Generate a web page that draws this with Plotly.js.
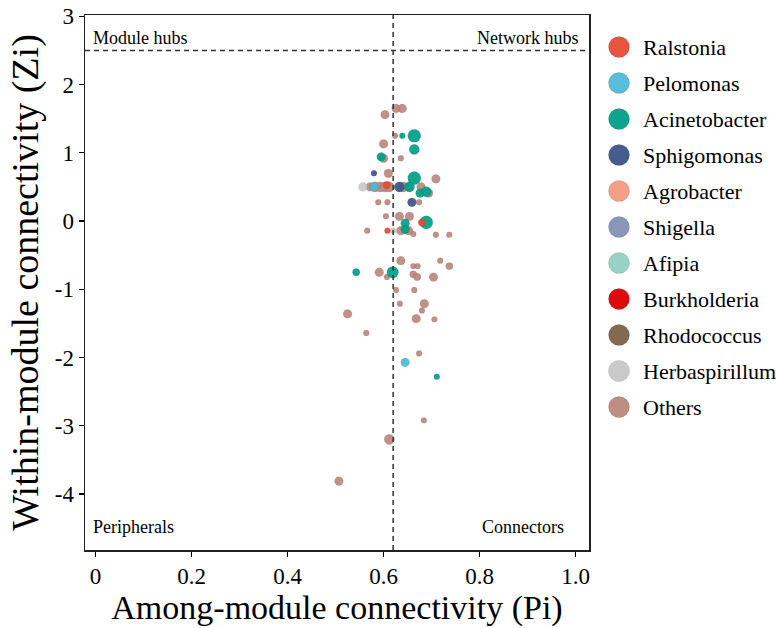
<!DOCTYPE html>
<html><head><meta charset="utf-8">
<script src="https://cdn.plot.ly/plotly-3.0.1.min.js"></script>
<style>html,body{margin:0;padding:0;background:#fff}#chart{width:776px;height:628px}</style>
</head><body><div id="chart"></div><script>
// Legend categories and colours
const genera = ['Ralstonia','Pelomonas','Acinetobacter','Sphigomonas','Agrobacter','Shigella','Afipia','Burkholderia','Rhodococcus','Herbaspirillum','Others'];
const genusColors = ['#E64B35','#4DBBD5','#00A087','#3C5488','#F39B7F','#8491B4','#91D1C2','#DC0000','#7E6148','#C8C8C8','#BC877D'];

// Node data: among-module connectivity (Pi), within-module connectivity (Zi), genus, degree
const pi = [0.626,0.639,0.603,0.624,0.639,0.664,0.600,0.664,0.595,0.600,0.636,0.580,0.610,0.664,0.709,
  0.557,0.572,0.580,0.582,0.593,0.603,0.612,0.607,0.633,0.641,0.654,0.652,0.678,0.676,0.689,0.694,
  0.589,0.608,0.659,0.674,0.605,0.633,0.654,0.645,0.680,0.689,0.566,0.608,0.620,0.636,0.645,0.652,
  0.662,0.709,0.737,0.636,0.662,0.671,0.718,0.737,0.543,0.591,0.619,0.607,0.662,0.670,0.704,0.626,
  0.664,0.634,0.685,0.680,0.525,0.668,0.706,0.564,0.674,0.645,0.711,0.684,0.612,0.507];
const zi = [1.65,1.65,1.56,1.25,1.25,1.25,1.13,1.05,0.94,0.92,0.92,0.70,0.70,0.63,0.62,
  0.50,0.50,0.50,0.50,0.50,0.50,0.50,0.53,0.50,0.50,0.50,0.50,0.50,0.41,0.43,0.41,
  0.275,0.275,0.275,0.275,0.07,0.07,0.07,-0.03,-0.02,-0.02,-0.14,-0.14,-0.14,-0.14,-0.12,-0.14,
  -0.19,-0.20,-0.20,-0.58,-0.66,-0.66,-0.58,-0.66,-0.75,-0.75,-0.75,-0.82,-0.78,-0.82,-0.82,-1.01,
  -1.01,-1.21,-1.21,-1.31,-1.36,-1.43,-1.44,-1.64,-1.94,-2.07,-2.28,-2.92,-3.20,-3.81];
const genus = ['Others','Others','Others','Others','Acinetobacter','Acinetobacter','Others','Acinetobacter','Acinetobacter','Others','Others','Sphigomonas','Others','Acinetobacter','Others',
  'Herbaspirillum','Others','Pelomonas','Others','Others','Others','Others','Ralstonia','Sphigomonas','Others','Acinetobacter','Others','Others','Acinetobacter','Acinetobacter','Others',
  'Others','Others','Sphigomonas','Others','Others','Others','Others','Acinetobacter','Ralstonia','Acinetobacter','Others','Ralstonia','Herbaspirillum','Others','Acinetobacter','Others',
  'Others','Others','Others','Others','Others','Others','Others','Others','Acinetobacter','Others','Acinetobacter','Others','Others','Others','Others','Others',
  'Others','Others','Others','Others','Others','Others','Others','Others','Others','Pelomonas','Acinetobacter','Others','Others','Others'];
const degree = [4,4,4,2,2,7,4,5,4,4,2,2,4,7,4,
  4,4,4,5,5,5,5,3,5,5,5,4,4,4,5,4,
  2,2,4,2,2,4,4,4,3,7,2,2,2,4,4,4,
  2,2,2,4,2,2,2,3,3,4,6,2,3,3,4,2,
  2,2,4,2,4,4,2,2,2,4,2,2,5,4];

// Axis ticks and thresholds
const xTickVals = [0,0.2,0.4,0.6,0.8,1.0];
const xTickText = ['0','0.2','0.4','0.6','0.8','1.0'];
const yTickVals = [-4,-3,-2,-1,0,1,2,3];
const yTickText = ['-4','-3','-2','-1','0','1','2','3'];
const piThreshold = 0.62;
const ziThreshold = 2.5;
const roleLabels = ['Module hubs','Network hubs','Peripherals','Connectors'];

const serif = 'Liberation Serif, Times New Roman, serif';
const W = 776, H = 628;
const M = { l: 85, r: 0, t: 15, b: 78 };
const plotRightPx = 589;                       // right edge of the main panel
const mainFrac = (plotRightPx - M.l) / (W - M.l - M.r);
const panelH = H - M.t - M.b;
const keyW = W - plotRightPx;
const rowPx = 36, firstRowPx = 32;             // key row spacing / offset of first row (px)
const keyTop = -firstRowPx / rowPx;
const keyBottom = keyTop + panelH / rowPx;

// main scatter traces ("Others" drawn first so coloured nodes sit on top)
const drawOrder = genera.slice().reverse();
const traces = drawOrder.map(g => {
  const gi = genera.indexOf(g);
  const xs = [], ys = [], ss = [];
  pi.forEach((v, i) => { if (genus[i] === g) { xs.push(v); ys.push(zi[i]); ss.push(3 + degree[i] * 1.45); } });
  return {
    type: 'scatter', mode: 'markers', name: g, showlegend: false,
    x: xs, y: ys, xaxis: 'x', yaxis: 'y',
    marker: { color: genusColors[gi], size: ss, opacity: 0.92,
              line: { width: 0.6, color: 'rgba(0,0,0,0.12)' } }
  };
});

// key (legend) drawn on a side axis: one row per genus
const rowIndex = genera.map((g, i) => i);
traces.push({
  type: 'scatter', mode: 'markers', showlegend: false,
  x: genera.map(() => 30), y: rowIndex, xaxis: 'x2', yaxis: 'y2',
  marker: { color: genusColors, size: 21, opacity: 0.95, line: { width: 0.8, color: 'rgba(0,0,0,0.15)' } },
  hoverinfo: 'skip', cliponaxis: false
});
const keyLabels = genera.map((g, i) => ({
  text: g, xref: 'x2', yref: 'y2', x: 52, y: i, xanchor: 'left', yanchor: 'middle',
  showarrow: false, font: { family: serif, size: 22, color: '#000' }
}));

const roleFont = { family: serif, size: 18, color: '#000' };
const layout = {
  width: W, height: H,
  margin: M,
  paper_bgcolor: '#fff', plot_bgcolor: '#fff',
  font: { family: serif, color: '#000' },
  showlegend: false,
  xaxis: {
    domain: [0, mainFrac],
    range: [-0.022, 1.028], tickvals: xTickVals, ticktext: xTickText,
    ticks: 'outside', ticklen: 5, tickwidth: 1.2, tickcolor: '#000',
    showline: true, mirror: true, linecolor: '#222', linewidth: 1.5,
    showgrid: false, zeroline: false,
    tickfont: { family: serif, size: 23, color: '#000' },
    title: { text: 'Among-module connectivity (Pi)', font: { family: serif, size: 34, color: '#000' }, standoff: 4 }
  },
  yaxis: {
    range: [-4.82, 3.02], tickvals: yTickVals, ticktext: yTickText,
    ticks: 'outside', ticklen: 5, tickwidth: 1.2, tickcolor: '#000',
    showline: true, mirror: true, linecolor: '#222', linewidth: 1.5,
    showgrid: false, zeroline: false,
    tickfont: { family: serif, size: 23, color: '#000' },
    title: { text: 'Within-module connectivity (Zi)', font: { family: serif, size: 38, color: '#000' }, standoff: 4 }
  },
  xaxis2: { domain: [mainFrac, 1], range: [0, keyW], anchor: 'y2', visible: false, fixedrange: true },
  yaxis2: { domain: [0, 1], range: [keyBottom, keyTop], anchor: 'x2', visible: false, fixedrange: true },
  shapes: [
    { type: 'line', xref: 'x', yref: 'y domain', x0: piThreshold, x1: piThreshold, y0: 0, y1: 1,
      line: { color: '#333', width: 1.5, dash: '5px,4px' } },
    { type: 'line', xref: 'x domain', yref: 'y', x0: 0, x1: 1, y0: ziThreshold, y1: ziThreshold,
      line: { color: '#333', width: 1.5, dash: '5px,4px' } }
  ],
  annotations: [
    { text: roleLabels[0], xref: 'x', yref: 'y', x: -0.01, y: 2.69, xanchor: 'left', yanchor: 'middle', showarrow: false, font: roleFont },
    { text: roleLabels[1], xref: 'x', yref: 'y', x: 1.012, y: 2.69, xanchor: 'right', yanchor: 'middle', showarrow: false, font: roleFont },
    { text: roleLabels[2], xref: 'x', yref: 'y', x: -0.01, y: -4.49, xanchor: 'left', yanchor: 'middle', showarrow: false, font: roleFont },
    { text: roleLabels[3], xref: 'x', yref: 'y', x: 0.98, y: -4.49, xanchor: 'right', yanchor: 'middle', showarrow: false, font: roleFont }
  ].concat(keyLabels)
};

Plotly.newPlot('chart', traces, layout, { displayModeBar: false, staticPlot: true });
</script></body></html>
